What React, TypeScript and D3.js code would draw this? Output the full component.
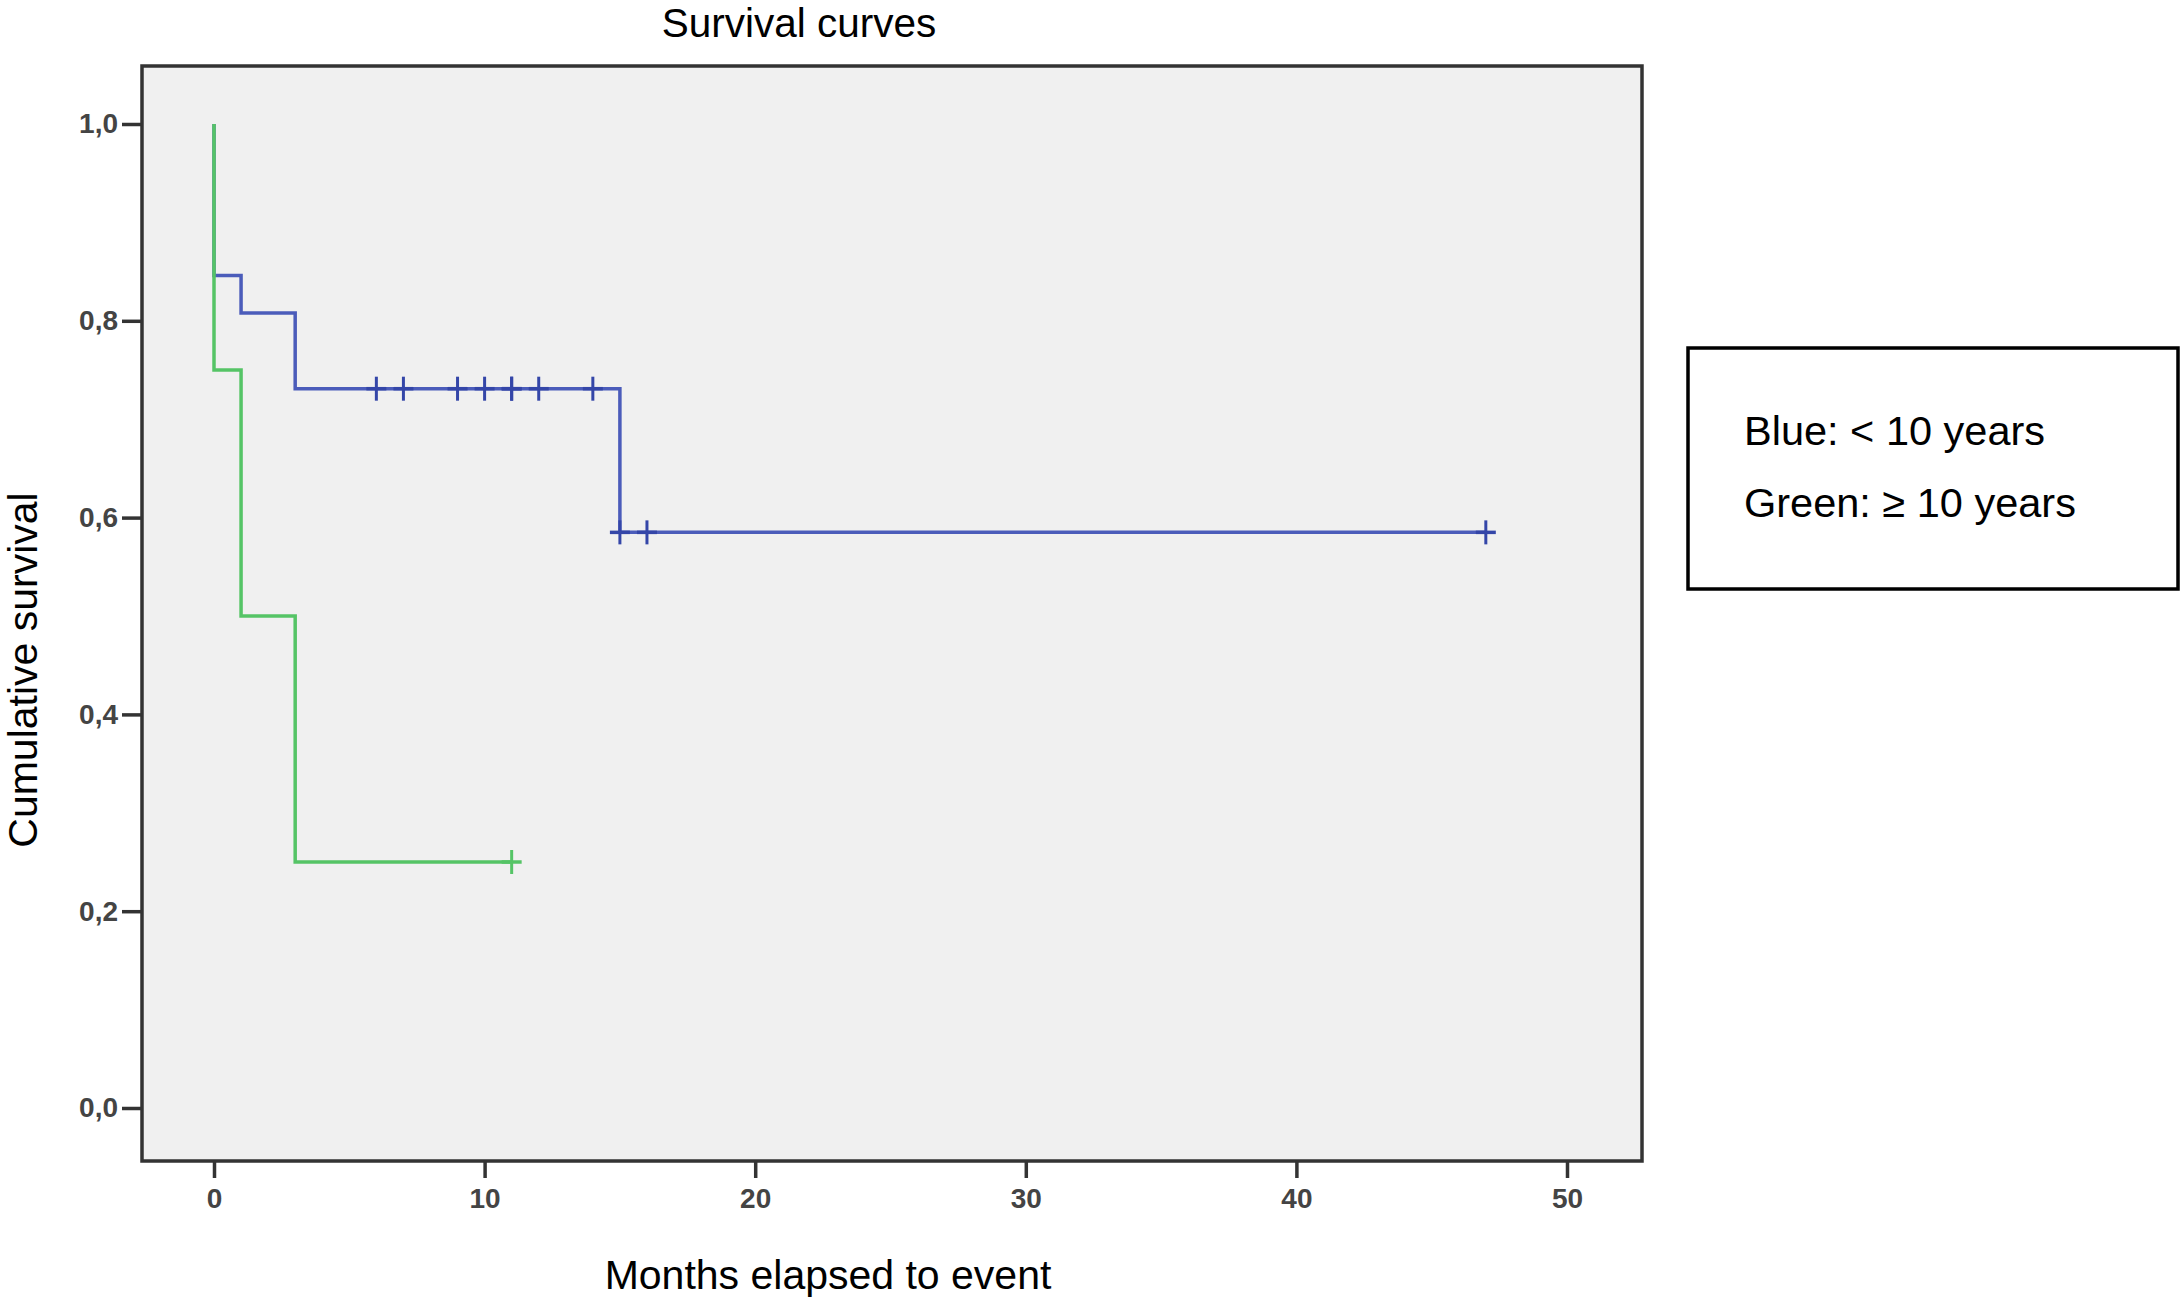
import React, { useEffect, useRef } from "react";
import {
  axisBottom,
  axisLeft,
  curveStepAfter,
  formatLocale,
  line,
  scaleLinear,
  select,
} from "d3";

// Kaplan-Meier steps
const blueEventTimes = [0, 1, 3, 15];
const blueSurvival = [0.846, 0.808, 0.731, 0.585];
const blueEndTime = 47;
const blueCensorTimes = [6, 7, 9, 10, 11, 11, 12, 14, 15, 16, 47];

const greenEventTimes = [0, 1, 3];
const greenSurvival = [0.75, 0.5, 0.25];
const greenEndTime = 11;
const greenCensorTimes = [11];

const xTicks = [0, 10, 20, 30, 40, 50];
const yTicks = [0, 0.2, 0.4, 0.6, 0.8, 1.0];
const legendLabels = ["Blue: < 10 years", "Green: \u2265 10 years"];

const W = 2182;
const H = 1299;
const frame = { left: 142, top: 66, right: 1642, bottom: 1161 };
const font = "'Liberation Sans', Arial, Helvetica, sans-serif";
const tickFont = "'Liberation Sans Narrow', 'Liberation Sans', Arial, sans-serif";

const BLUE = "#4b5cba";
const BLUE_MARK = "#3446a8";
const GREEN = "#55c466";

const commaFmt = formatLocale({
  decimal: ",",
  thousands: ".",
  grouping: [3],
  currency: ["", ""],
}).format(".1f");

export default function App() {
  const svgRef = useRef(null);

  useEffect(() => {
    const svg = select(svgRef.current);
    svg.selectAll("*").remove();

    const x = scaleLinear().domain([0, 50]).range([214, 1567]);
    const y = scaleLinear().domain([0, 1]).range([1108, 124]);

    // plot background + frame
    svg
      .append("rect")
      .attr("x", frame.left)
      .attr("y", frame.top)
      .attr("width", frame.right - frame.left)
      .attr("height", frame.bottom - frame.top)
      .attr("fill", "#f0f0f0")
      .attr("stroke", "#333")
      .attr("stroke-width", 3.5);

    // axes
    const yAxis = svg
      .append("g")
      .attr("transform", `translate(${frame.left},0)`)
      .call(
        axisLeft(y)
          .tickValues(yTicks)
          .tickSize(20)
          .tickPadding(4)
          .tickFormat((d) => commaFmt(d as number))
      );
    const xAxis = svg
      .append("g")
      .attr("transform", `translate(0,${frame.bottom})`)
      .call(axisBottom(x).tickValues(xTicks).tickSize(17).tickPadding(10));

    [yAxis, xAxis].forEach((g) => {
      g.select(".domain").remove();
      g.selectAll("line").attr("stroke", "#333").attr("stroke-width", 3.5);
      g.selectAll("text")
        .attr("font-family", tickFont)
        .attr("font-size", 28)
        .attr("font-weight", "bold")
        .attr("fill", "#444");
    });

    const stepAt = (times: number[], surv: number[], t: number) => {
      let s = 1;
      times.forEach((et, i) => {
        if (et <= t) s = surv[i];
      });
      return s;
    };

    const drawCurve = (
      times: number[],
      surv: number[],
      end: number,
      censors: number[],
      color: string,
      markColor: string
    ) => {
      const pts: [number, number][] = [[0, 1]];
      times.forEach((t, i) => pts.push([t, surv[i]]));
      pts.push([end, surv[surv.length - 1]]);
      const path = line<[number, number]>()
        .x((d) => x(d[0]))
        .y((d) => y(d[1]))
        .curve(curveStepAfter);
      svg
        .append("path")
        .attr("d", path(pts))
        .attr("fill", "none")
        .attr("stroke", color)
        .attr("stroke-width", 3.5);

      const marks = svg.append("g");
      censors.forEach((t) => {
        const cx = x(t);
        const cy = y(stepAt(times, surv, t));
        marks
          .append("line")
          .attr("x1", cx)
          .attr("x2", cx)
          .attr("y1", cy - 12)
          .attr("y2", cy + 12)
          .attr("stroke", markColor)
          .attr("stroke-width", 3);
        marks
          .append("line")
          .attr("x1", cx - 10)
          .attr("x2", cx + 10)
          .attr("y1", cy)
          .attr("y2", cy)
          .attr("stroke", markColor)
          .attr("stroke-width", 3.5);
      });
    };

    drawCurve(blueEventTimes, blueSurvival, blueEndTime, blueCensorTimes, BLUE, BLUE_MARK);
    drawCurve(greenEventTimes, greenSurvival, greenEndTime, greenCensorTimes, GREEN, GREEN);

    // titles
    svg
      .append("text")
      .attr("x", 799)
      .attr("y", 37)
      .attr("text-anchor", "middle")
      .attr("font-family", font)
      .attr("font-size", 40.5)
      .text("Survival curves");

    svg
      .append("text")
      .attr("x", 828)
      .attr("y", 1289)
      .attr("text-anchor", "middle")
      .attr("font-family", font)
      .attr("font-size", 41)
      .text("Months elapsed to event");

    svg
      .append("text")
      .attr("transform", "translate(37,670) rotate(-90)")
      .attr("text-anchor", "middle")
      .attr("font-family", font)
      .attr("font-size", 41)
      .text("Cumulative survival");

    // legend box
    svg
      .append("rect")
      .attr("x", 1688)
      .attr("y", 348)
      .attr("width", 490)
      .attr("height", 241)
      .attr("fill", "#fff")
      .attr("stroke", "#000")
      .attr("stroke-width", 3.5);

    svg
      .selectAll("text.legend")
      .data(legendLabels)
      .enter()
      .append("text")
      .attr("class", "legend")
      .attr("x", 1744)
      .attr("y", (d, i) => 445 + i * 72)
      .attr("font-family", font)
      .attr("font-size", 41.5)
      .text((d) => d);
  }, []);

  return (
    <svg
      ref={svgRef}
      width={W}
      height={H}
      style={{ position: "absolute", left: 0, top: 0, background: "#fff" }}
    />
  );
}
